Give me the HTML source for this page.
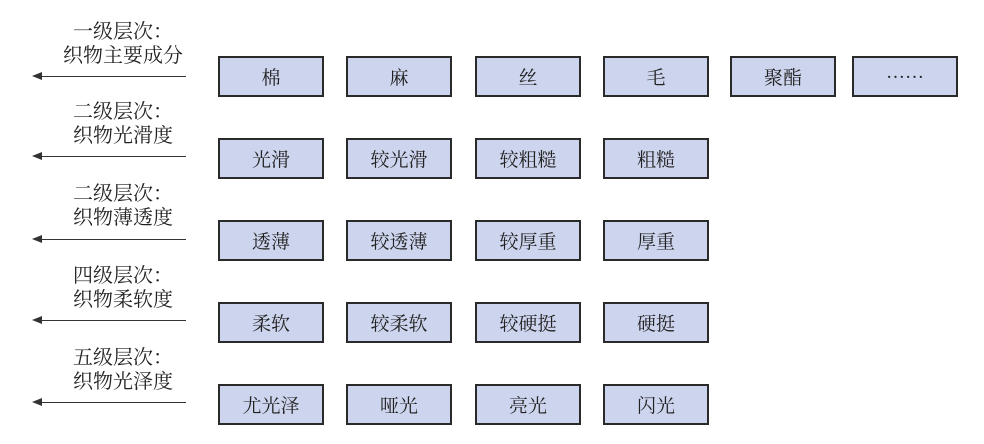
<!DOCTYPE html>
<html><head><meta charset="utf-8"><style>
body{margin:0;width:984px;height:444px;background:#fff;position:relative;overflow:hidden;font-family:"Noto Serif CJK SC","Liberation Serif",serif;color:#222}
.b{position:absolute;width:102px;height:37px;border:2px solid #2a2a2a;background:#cdd5ee;text-align:center;line-height:37px;font-size:19px}
.l{position:absolute;left:30px;width:186px;text-align:center;font-size:20px;line-height:24px}
.a{position:absolute;left:40px;width:146px;height:0;border-top:1.5px solid #333}
.a:before{content:"";position:absolute;left:-8px;top:-5.5px;border-right:10px solid #333;border-top:4.5px solid transparent;border-bottom:4.5px solid transparent}
</style></head><body>
<div class="l" style="top:18px">一级层次：<br>织物主要成分</div><div class="a" style="top:76px"></div>
<div class="l" style="top:98px">二级层次：<br>织物光滑度</div><div class="a" style="top:156px"></div>
<div class="l" style="top:180px">二级层次：<br>织物薄透度</div><div class="a" style="top:239px"></div>
<div class="l" style="top:262px">四级层次：<br>织物柔软度</div><div class="a" style="top:320px"></div>
<div class="l" style="top:344px">五级层次：<br>织物光泽度</div><div class="a" style="top:402px"></div>

<div class="b" style="left:218px;top:56px">棉</div>
<div class="b" style="left:346px;top:56px">麻</div>
<div class="b" style="left:475px;top:56px">丝</div>
<div class="b" style="left:603px;top:56px">毛</div>
<div class="b" style="left:730px;top:56px">聚酯</div>
<div class="b" style="left:852px;top:56px;font-weight:bold">……</div>

<div class="b" style="left:218px;top:138px">光滑</div>
<div class="b" style="left:346px;top:138px">较光滑</div>
<div class="b" style="left:475px;top:138px">较粗糙</div>
<div class="b" style="left:603px;top:138px">粗糙</div>

<div class="b" style="left:218px;top:220px">透薄</div>
<div class="b" style="left:346px;top:220px">较透薄</div>
<div class="b" style="left:475px;top:220px">较厚重</div>
<div class="b" style="left:603px;top:220px">厚重</div>

<div class="b" style="left:218px;top:302px">柔软</div>
<div class="b" style="left:346px;top:302px">较柔软</div>
<div class="b" style="left:475px;top:302px">较硬挺</div>
<div class="b" style="left:603px;top:302px">硬挺</div>

<div class="b" style="left:218px;top:384px">尤光泽</div>
<div class="b" style="left:346px;top:384px">哑光</div>
<div class="b" style="left:475px;top:384px">亮光</div>
<div class="b" style="left:603px;top:384px">闪光</div>
</body></html>
